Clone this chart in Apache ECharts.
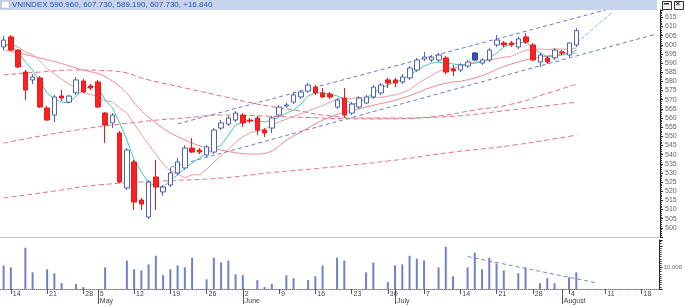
<!DOCTYPE html>
<html><head><meta charset="utf-8">
<script src="https://cdn.jsdelivr.net/npm/echarts@6/dist/echarts.min.js"></script>
<style>html,body{margin:0;padding:0;background:#fff}#c{width:685px;height:307px}</style>
</head><body><div id="c"></div>
<script>
const titleText = 'VNINDEX 590.960, 607.730, 589.190, 607.730, +16.840';
const lastPrice = 607.73;
const dates = [
'2014-04-11',
'2014-04-14','2014-04-15','2014-04-16','2014-04-17','2014-04-18',
'2014-04-21','2014-04-22','2014-04-23','2014-04-24','2014-04-25',
'2014-04-28','2014-04-29',
'2014-05-05','2014-05-06','2014-05-07','2014-05-08','2014-05-09',
'2014-05-12','2014-05-13','2014-05-14','2014-05-15','2014-05-16',
'2014-05-19','2014-05-20','2014-05-21','2014-05-22','2014-05-23',
'2014-05-26','2014-05-27','2014-05-28','2014-05-29','2014-05-30',
'2014-06-02','2014-06-03','2014-06-04','2014-06-05','2014-06-06',
'2014-06-09','2014-06-10','2014-06-11','2014-06-12','2014-06-13',
'2014-06-16','2014-06-17','2014-06-18','2014-06-19','2014-06-20',
'2014-06-23','2014-06-24','2014-06-25','2014-06-26','2014-06-27',
'2014-06-30','2014-07-01','2014-07-02','2014-07-03','2014-07-04',
'2014-07-07','2014-07-08','2014-07-09','2014-07-10','2014-07-11',
'2014-07-14','2014-07-15','2014-07-16','2014-07-17','2014-07-18',
'2014-07-21','2014-07-22','2014-07-23','2014-07-24','2014-07-25',
'2014-07-28','2014-07-29','2014-07-30','2014-07-31','2014-08-01',
'2014-08-04','2014-08-05','2014-08-06','2014-08-07','2014-08-08',
'2014-08-11','2014-08-12','2014-08-13','2014-08-14','2014-08-15',
'2014-08-18','2014-08-19','2014-08-20'
];
const monthStarts = ['2014-05-05','2014-06-02','2014-07-01','2014-08-01'];
const monthNames = ['May','June','July','August'];
const priceTicks = {min:495, max:619, step:5};
const volumeTickLabels = {10000:'10,000'};

// [open, close, low, high]
const ohlc = [
[598.8,602.6,597.1,604.8],
[604.3,597.1,596.6,605.3],[597.1,587.9,587.3,597.7],[585.1,575.3,569.8,586.2],[580.8,582.4,578.6,584.0],[581.9,566.0,565.5,582.9],
[565.5,558.9,558.4,566.6],[561.6,571.5,557.8,572.6],[572.0,570.9,569.3,575.3],[568.7,572.0,568.2,572.6],[573.7,580.8,572.6,582.4],
[580.2,574.2,573.7,581.3],[577.5,576.4,575.3,578.6],
[579.7,566.0,565.5,580.8],[562.7,556.2,546.3,563.3],[557.3,561.6,554.5,562.7],[551.8,525.0,524.5,552.9],[521.8,542.5,520.7,543.6],
[536.0,514.1,509.7,537.1],[515.2,513.0,509.7,516.3],[505.9,525.0,504.8,526.1],[527.8,522.3,509.7,537.1],[519.6,522.3,517.4,523.4],
[523.4,530.0,522.3,532.7],[530.0,536.0,528.9,538.1],[532.7,543.6,531.6,545.2],[543.6,541.4,540.9,549.1],[542.5,541.4,540.3,543.6],
[539.8,544.2,538.7,545.2],[541.4,553.4,540.3,554.5],[554.5,557.3,553.4,558.9],[556.7,560.0,555.6,561.1],[558.9,562.7,557.8,563.8],
[561.6,557.3,555.1,562.7],[558.9,558.4,557.3,560.0],[560.0,553.4,550.7,561.1],[553.4,551.8,549.6,554.5],[554.5,560.0,551.8,561.1],
[561.6,566.0,560.5,567.1],[566.6,567.1,565.5,568.2],[568.7,572.6,567.6,574.2],[571.5,574.2,570.4,575.3],[574.7,578.0,573.7,579.1],
[576.9,573.7,572.6,578.0],[573.7,571.5,570.9,576.4],[573.1,571.5,570.4,574.2],[566.0,569.8,564.9,570.9],[570.9,561.6,560.0,576.4],
[562.7,567.6,561.6,568.7],[566.0,570.9,564.9,572.0],[568.2,571.5,567.6,572.6],[571.5,576.9,570.4,578.0],[573.7,578.0,572.6,579.1],
[580.8,579.1,576.4,581.9],[580.8,579.1,576.9,581.9],[579.7,582.4,578.6,584.0],[581.9,587.3,580.8,588.4],[586.2,591.7,585.1,592.8],
[592.2,593.3,591.1,596.1],[591.7,593.3,590.6,594.4],[591.7,594.4,590.6,595.5],[592.8,585.1,584.0,593.9],[586.8,585.7,582.9,589.0],
[586.2,589.0,585.1,590.0],[588.4,590.6,587.3,591.7],[591.7,595.5,591.1,596.1],[590.0,591.7,589.0,592.8],[591.7,597.1,590.6,598.2],
[599.9,602.6,598.8,605.3],[601.0,599.9,598.8,602.1],[601.0,599.9,598.8,602.1],[598.8,603.2,597.7,604.3],[604.3,601.5,600.4,606.4],
[599.9,591.7,591.1,601.0],[590.6,594.4,587.9,595.5],[592.8,590.6,589.5,593.9],[592.8,597.1,591.7,598.2],[596.1,595.5,594.4,597.1],
[594.4,601.0,593.3,601.0],[599.9,607.73,598.8,609.2]
];
const filledUpDates = ['2014-07-16'];

const volume = [
10900,
10000,null,19100,7700,null,
9100,7300,2700,null,2300,
900,null,
null,10000,null,null,13200,
9100,8600,11400,15400,6400,
9100,10900,10000,14500,null,
4500,14500,12300,13200,6800,
6400,null,4100,900,2300,
null,6400,5000,null,4100,
5900,10900,null,14500,13200,
null,null,7700,12300,null,
3200,10900,11400,15400,14100,
13200,null,10000,19500,5900,
null,10000,16800,9100,14500,
11800,8600,null,7300,10000,
null,2700,5000,2700,null,
5400,7700
];

const ma5 = [
599.9,
599.3,596.1,590.6,586.2,579.7,
573.7,570.4,568.7,568.2,572.0,
575.3,577.5,
576.9,569.8,565.5,557.3,548.0,
537.1,530.5,524.5,522.9,522.3,
526.1,528.9,532.7,535.4,538.1,
540.9,543.1,545.2,550.7,556.2,
557.8,558.4,558.4,557.8,558.9,
560.5,562.7,564.4,567.6,572.0,
573.7,573.7,573.1,572.0,570.4,
567.6,568.2,570.9,573.7,576.4,
578.0,579.7,580.8,583.5,586.2,
588.4,590.0,590.6,590.0,589.5,
589.0,589.5,590.0,590.6,592.8,
595.5,598.8,600.4,601.0,601.5,
598.2,595.5,593.3,593.9,594.4,
595.5,597.1
];
const ma10 = [
600.2,
599.9,598.7,596.2,594.5,591.1,
587.0,584.1,581.3,578.5,576.3,
574.0,572.8,
571.9,569.3,568.8,565.5,562.6,
556.9,551.0,545.4,540.2,534.8,
531.2,529.2,527.4,529.0,528.9,
531.9,536.0,539.2,543.0,547.0,
549.7,552.0,553.0,554.0,555.8,
558.0,559.4,560.9,562.3,563.9,
565.5,566.8,568.6,570.4,570.6,
570.8,571.1,571.0,571.3,571.3,
571.9,572.6,573.7,575.5,578.5,
581.0,583.3,585.6,586.4,587.2,
588.1,589.3,590.6,591.0,591.6,
592.5,593.2,593.7,595.5,597.1,
597.4,597.7,597.3,597.8,597.6,
597.5,598.3
];
const ma20 = [
['2014-04-11',597.1],['2014-04-18',592.8],['2014-04-25',587.3],['2014-05-07',580.2],
['2014-05-14',560.5],['2014-05-21',548.0],['2014-05-28',542.5],['2014-06-04',540.3],
['2014-06-11',550.2],['2014-06-18',560.5],['2014-06-25',566.0],['2014-07-02',570.9],
['2014-07-09',578.0],['2014-07-16',581.9],['2014-07-23',589.5],['2014-07-30',593.9],['2014-08-05',595.5]
];
const ma50 = [
['2014-04-11',583.5],['2014-04-18',585.1],['2014-04-25',586.2],['2014-05-07',585.7],
['2014-05-14',580.8],['2014-05-21',576.4],['2014-05-28',572.0],['2014-06-04',567.6],
['2014-06-11',564.4],['2014-06-18',561.1],['2014-06-25',560.0],['2014-07-02',560.0],
['2014-07-09',561.1],['2014-07-16',564.4],['2014-07-23',567.5],['2014-07-30',573.5],['2014-08-05',578.5]
];
const ma100 = [
['2014-04-11',546.3],['2014-04-25',553.4],['2014-05-14',558.4],['2014-05-21',560.0],
['2014-05-28',561.6],['2014-06-11',560.5],['2014-06-25',559.5],['2014-07-09',560.5],
['2014-07-23',564.4],['2014-08-05',568.7]
];
const ma200 = [
['2014-04-11',516.3],['2014-04-22',520.1],['2014-05-05',523.4],['2014-05-16',525.6],
['2014-05-28',527.2],['2014-06-06',530.2],['2014-06-17',532.7],['2014-06-30',536.5],
['2014-07-11',541.4],['2014-07-23',545.0],['2014-08-05',550.7]
];
const trendUpper = [['2014-05-20',556.8],['2014-08-11',619.0]];
const trendLower = [['2014-05-19',533.1],['2014-08-20',605.9]];
const trendSteep = [['2014-08-05',601.0],['2014-08-12',618.0]];
const volumeTrend = [['2014-07-15',15000],['2014-08-08',2700]];

const FONT = 'Liberation Sans';
const candleData = ohlc.map((v,k)=> filledUpDates.includes(dates[k])
  ? {value:v, itemStyle:{color:'#3653b8', borderColor:'#2d46a0'}} : v);
const isWeekStart = (idx, val) => new Date(val+'T00:00:00').getDay() === 1;
const isMonthStart = (idx, val) => monthStarts.includes(val);

const chart = echarts.init(document.getElementById('c'), null, {renderer:'canvas'});
function lineS(name, data, color, dashed, smooth){
  return {name, type:'line', xAxisIndex:0, yAxisIndex:0, data, symbol:'none', smooth:!!smooth,
    connectNulls:true, silent:true, z:3,
    lineStyle:{color, width:1, type: dashed ? [5,3] : 'solid'}};
}
chart.setOption({
  animation:false,
  textStyle:{fontFamily:FONT},
  grid:[
    {left:-1, right:25, top:10, height:227},
    {left:-1, right:25, top:240, height:49}
  ],
  xAxis:[
    {type:'category', gridIndex:0, data:dates, boundaryGap:true,
     axisLine:{show:true, lineStyle:{color:'#c8c8c8'}}, axisTick:{show:false}, axisLabel:{show:false}, splitLine:{show:false}},
    {type:'category', gridIndex:1, data:dates, boundaryGap:true,
     axisLine:{show:true, lineStyle:{color:'#777', type:'dotted'}},
     axisTick:{show:true, alignWithLabel:true, interval:isWeekStart, length:5, lineStyle:{color:'#555'}},
     axisLabel:{show:true, interval:isWeekStart, formatter:v=>String(+v.slice(8)), align:'left', margin:2,
       padding:[0,0,0,2], fontSize:7, color:'#444', fontFamily:FONT}},
    {type:'category', gridIndex:1, data:dates, boundaryGap:true, position:'bottom',
     axisLine:{show:false},
     axisTick:{show:true, alignWithLabel:true, interval:isMonthStart, length:15, lineStyle:{color:'#555'}},
     axisLabel:{show:true, interval:isMonthStart, formatter:v=>monthNames[monthStarts.indexOf(v)] || '',
       align:'left', margin:9, padding:[0,0,0,2], fontSize:7, color:'#444', fontFamily:FONT}}
  ],
  yAxis:[
    {type:'value', gridIndex:0, position:'right', min:priceTicks.min, max:priceTicks.max, interval:priceTicks.step,
     axisLine:{show:true, lineStyle:{color:'#222'}},
     axisTick:{show:true, length:3, lineStyle:{color:'#222'}},
     minorTick:{show:true, splitNumber:5, length:2, lineStyle:{color:'#333'}},
     splitLine:{show:false},
     axisLabel:{fontSize:7, color:'#666', margin:5, fontFamily:FONT,
       formatter:v=> (Math.abs(v % priceTicks.step) < 1e-6 && v !== priceTicks.min) ? String(Math.round(v)) : ''}},
    {type:'value', gridIndex:1, position:'right', min:0, max:22700, interval:10000,
     axisLine:{show:true, lineStyle:{color:'#222'}},
     axisTick:{show:true, length:3, lineStyle:{color:'#222'}},
     minorTick:{show:true, splitNumber:10, length:2, lineStyle:{color:'#444'}},
     splitLine:{show:false},
     axisLabel:{fontSize:6, color:'#666', margin:4, fontFamily:FONT, formatter:v=>volumeTickLabels[v] || ''}}
  ],
  series:[
    lineS('MA200', ma200, '#e8707a', true, true),
    lineS('MA100', ma100, '#e8707a', true, true),
    lineS('MA50', ma50, '#e36d74', true, true),
    lineS('MA20', ma20, '#ec8a8f', false, true),
    lineS('MA10', ma10, '#f29a9a', false, false),
    lineS('MA5', ma5, '#3ec9b2', false, false),
    {type:'line', data:trendUpper, symbol:'none', silent:true, z:3, lineStyle:{color:'#6a7cc6', width:1, type:[4,3]}},
    {type:'line', data:trendLower, symbol:'none', silent:true, z:3, lineStyle:{color:'#6a7cc6', width:1, type:[4,3]}},
    {type:'line', data:trendSteep, symbol:'none', silent:true, z:3, lineStyle:{color:'#8fb0e8', width:1, type:[4,2]}},
    {name:'VNINDEX', type:'candlestick', xAxisIndex:0, yAxisIndex:0, data:candleData, barWidth:5, z:4,
     itemStyle:{color:'#ffffff', color0:'#ff2020', borderColor:'#4e62b8', borderColor0:'#e81a1a', borderWidth:1},
     markLine:{silent:true, symbol:'none', z:10, data:[{yAxis:lastPrice}],
       lineStyle:{opacity:0},
       label:{position:'end', distance:2, formatter:()=>lastPrice.toFixed(2), backgroundColor:'#0d4a1e',
         color:'#9ef09e', fontSize:7, padding:[1,1], fontFamily:FONT}}},
    {name:'Volume', type:'bar', xAxisIndex:1, yAxisIndex:1, data:volume, barWidth:2,
     itemStyle:{color:'#6f80cc'}},
    {type:'line', xAxisIndex:1, yAxisIndex:1, data:volumeTrend, symbol:'none', silent:true,
     lineStyle:{color:'#7088cc', width:1, type:[4,3]}}
  ],
  graphic:[
    {type:'rect', left:0, top:0, shape:{width:657, height:10}, style:{fill:'#c7d6ee'}, z:0},
    {type:'rect', left:1, top:1, shape:{width:8, height:7}, style:{fill:'#ffffff', stroke:'#8899bb', lineWidth:0.5}},
    {type:'text', left:12, top:1, style:{text:titleText, fill:'#2a4db0', font:'8px '+FONT}},
    {type:'rect', left:662, top:1, shape:{width:9, height:8}, style:{fill:'#f4f4f4', stroke:'#333', lineWidth:1}},
    {type:'rect', left:664, top:3, shape:{width:5, height:1.5}, style:{fill:'#333'}},
    {type:'rect', left:674, top:1, shape:{width:9, height:8}, style:{fill:'#f4f4f4', stroke:'#333', lineWidth:1}},
    {type:'text', left:675.5, top:0, style:{text:'×', fill:'#222', font:'bold 8px '+FONT}}
  ]
});
</script></body></html>
